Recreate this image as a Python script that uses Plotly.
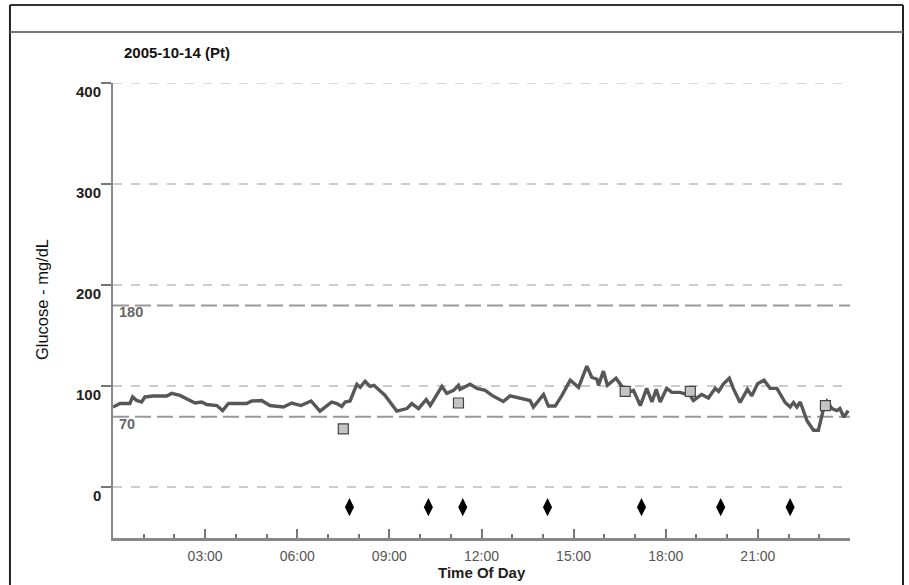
import plotly.graph_objects as go

# ---- data ----
hours = [0.00, 0.23, 0.55, 0.64, 0.77, 0.93, 1.04, 1.31, 1.75, 1.91, 2.18, 2.40, 2.67, 2.89,
         3.05, 3.38, 3.57, 3.76, 4.35, 4.52, 4.84, 5.11, 5.55, 5.82, 6.12, 6.45, 6.74, 6.91,
         7.12, 7.29, 7.45, 7.56, 7.72, 7.94, 8.05, 8.21, 8.37, 8.50, 8.86, 9.24, 9.57, 9.73,
         9.95, 10.20, 10.33, 10.71, 10.87, 11.09, 11.25, 11.30, 11.63, 11.85, 12.12, 12.34,
         12.71, 12.93, 13.26, 13.58, 13.69, 14.02, 14.18, 14.40, 14.62, 14.89, 15.16, 15.43,
         15.59, 15.76, 15.81, 15.97, 16.10, 16.38, 16.57, 16.78, 16.95, 17.17, 17.38, 17.55,
         17.69, 17.82, 18.03, 18.20, 18.47, 18.79, 18.90, 19.17, 19.39, 19.61, 19.72, 19.88,
         20.07, 20.20, 20.42, 20.66, 20.80, 20.99, 21.20, 21.40, 21.62, 21.89, 22.05, 22.16,
         22.27, 22.38, 22.60, 22.81, 22.97, 23.14, 23.25, 23.41, 23.57, 23.67, 23.80, 23.94]
glucose = [79.5, 83, 83, 89.5, 86, 84.5, 89.5, 90.5, 90.5, 93, 91, 88, 83.5, 84.5,
           82, 81, 76, 83, 83, 85.5, 86, 81, 79.5, 83.5, 81, 85.5, 75.5, 79.5,
           84.5, 83, 80, 84.5, 85.5, 102, 99, 105, 100, 101, 91, 75.5, 78, 83,
           78, 87, 81, 100, 93, 96, 101, 97, 102, 98, 96, 91,
           85, 90.5, 88, 86, 79.5, 92, 80.5, 80.5, 91, 106, 99, 120,
           109, 107, 101, 115, 101, 108, 100, 94, 96, 81, 98, 84.5,
           97, 84.5, 98, 94, 94, 91, 86, 92, 88.5, 98, 95, 102.5,
           108, 98, 84, 97, 90.5, 102.5, 106, 98, 98, 84, 79.5, 84,
           79.5, 84.5, 66, 56.5, 56.5, 78, 85, 78, 76, 78, 69.5, 76]

event_hours = [7.50, 11.25, 16.68, 18.80, 23.20]
event_values = [58, 83.5, 95, 95, 81]

diamond_hours = [7.70, 10.27, 11.39, 14.15, 17.21, 19.79, 22.05]
diamond_values = [-19.5, -19.5, -19.5, -19.5, -19.5, -19.5, -19.5]

y_tick_vals = [0, 100, 200, 300, 400]
y_tick_text = ["0", "100", "200", "300", "400"]
x_tick_vals = [3, 6, 9, 12, 15, 18, 21]
x_tick_text = ["03:00", "06:00", "09:00", "12:00", "15:00", "18:00", "21:00"]

target_low = 70
target_high = 180
title_text = "2005-10-14 (Pt)"

FONT = "Arial, Liberation Sans, sans-serif"

fig = go.Figure()

fig.add_trace(go.Scatter(x=hours, y=glucose, mode="lines",
                         line=dict(color="#575757", width=3.4), hoverinfo="skip"))
fig.add_trace(go.Scatter(x=event_hours, y=event_values, mode="markers",
                         marker=dict(symbol="square", size=10, color="#c4c4c4",
                                     line=dict(color="#444", width=1.2))))
fig.add_trace(go.Scatter(x=diamond_hours, y=diamond_values, mode="markers",
                         marker=dict(symbol="diamond-tall", size=13, color="#000")))

# top grid line (coincides with plot edge)
fig.add_shape(type="line", xref="x", yref="y", x0=0, x1=24, y0=400, y1=400,
              line=dict(color="#cccccc", width=1.5, dash="9px,9px"), layer="below")

# target lines
for v in (target_low, target_high):
    fig.add_shape(type="line", xref="x", yref="y", x0=0, x1=24, y0=v, y1=v,
                  line=dict(color="#999", width=2, dash="16px,6px"), layer="below")
    fig.add_annotation(xref="paper", yref="y", x=0.005, y=v, text=str(v), showarrow=False,
                       xanchor="left", yanchor="top", yshift=3,
                       font=dict(family=FONT, size=14.5, color="#666", weight="bold"))

# y tick labels
for v, t in zip(y_tick_vals, y_tick_text):
    fig.add_annotation(xref="paper", yref="y", x=0, y=v, text=t, showarrow=False,
                       xanchor="right", yanchor="middle", xshift=-10, yshift=-8,
                       font=dict(family=FONT, size=15, color="#222", weight="bold"))

# outer frame
fig.add_shape(type="line", xref="paper", yref="paper", x0=-0.1398, x1=1.0719, y0=1.1714, y1=1.1714,
              line=dict(color="#333", width=2))
fig.add_shape(type="line", xref="paper", yref="paper", x0=-0.1398, x1=-0.1398, y0=1.1714, y1=-0.25,
              line=dict(color="#222", width=2))
fig.add_shape(type="line", xref="paper", yref="paper", x0=1.0719, x1=1.0719, y0=1.1714, y1=-0.25,
              line=dict(color="#222", width=2))
fig.add_shape(type="line", xref="paper", yref="paper", x0=-0.1398, x1=1.0719, y0=1.1121, y1=1.1121,
              line=dict(color="#777", width=2))

# titles
fig.add_annotation(xref="paper", yref="paper", x=0.012, y=1.068, text=title_text, showarrow=False,
                   xanchor="left", yanchor="middle",
                   font=dict(family=FONT, size=15, color="#111", weight="bold"))
fig.add_annotation(xref="paper", yref="paper", x=-0.0963, y=0.523, text="Glucose - mg/dL",
                   showarrow=False, textangle=-90, xanchor="center", yanchor="middle",
                   font=dict(family=FONT, size=16.5, color="#111"))
fig.add_annotation(xref="paper", yref="paper", x=0.5, y=-0.0769, text="Time Of Day", showarrow=False,
                   xanchor="center", yanchor="middle",
                   font=dict(family=FONT, size=15, color="#222", weight="bold"))

fig.update_xaxes(range=[0, 24], tickvals=x_tick_vals, ticktext=x_tick_text,
                 ticks="inside", ticklen=9, tickwidth=1.5, tickcolor="#777",
                 minor=dict(dtick=1, ticks="inside", ticklen=4, tickwidth=1.5, tickcolor="#777"),
                 showline=True, linecolor="#888", linewidth=2.5, showgrid=False, zeroline=False,
                 tickfont=dict(family=FONT, size=14, color="#555"), ticklabelstandoff=3)
fig.update_yaxes(range=[-50, 400], tickvals=y_tick_vals, showticklabels=False,
                 ticks="outside", ticklen=10, tickwidth=1.5, tickcolor="#777",
                 showline=True, linecolor="#888", linewidth=2, showgrid=True,
                 gridcolor="#cccccc", gridwidth=1.5, griddash="dash", zeroline=False)

fig.update_layout(width=909, height=585, autosize=False, showlegend=False,
                  margin=dict(l=113, r=59, t=83, b=47),
                  plot_bgcolor="white", paper_bgcolor="white")

fig.write_html("out.html", config={"displayModeBar": False},
               post_script="document.body.style.margin='0px';document.body.style.overflow='hidden';")
